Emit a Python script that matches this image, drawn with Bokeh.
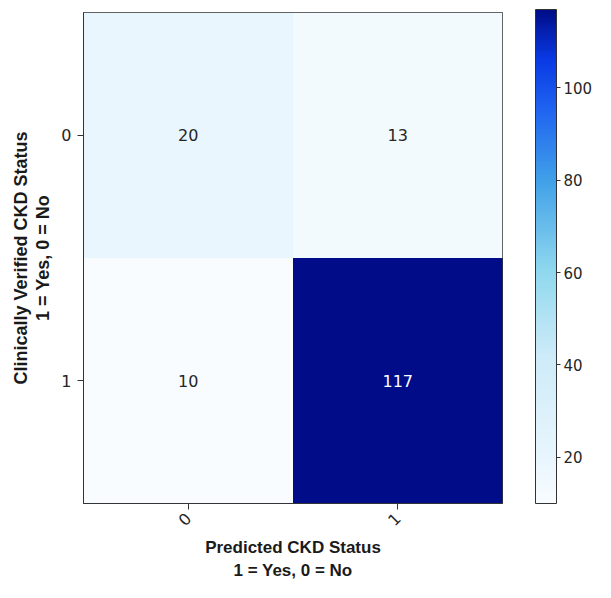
from math import pi
from bokeh.plotting import figure
from bokeh.models import ColumnDataSource, LinearColorMapper, ColorBar, FixedTicker, Range1d
from bokeh.transform import transform
from bokeh.core.properties import value
from bokeh.embed import file_html
from bokeh.resources import INLINE

# ---- data ----
row_labels = ["0", "1"]          # clinically verified status (rows, top to bottom)
col_labels = ["0", "1"]          # predicted status (columns, left to right)
counts_row0 = [20, 13]
counts_row1 = [10, 117]
cbar_ticks = [20, 40, 60, 80, 100]

counts = [counts_row0, counts_row1]

# ---- colormap (white -> cyan -> blue -> navy) ----
anchors = [
    (0.00, "#f8fcff"),
    (0.10, "#e7f5fd"),
    (0.30, "#cdebf8"),
    (0.47, "#90d8ee"),
    (0.65, "#42a2e8"),
    (0.80, "#1f63f0"),
    (0.90, "#0a3ae4"),
    (1.00, "#000c88"),
]


def h2rgb(h):
    h = h.lstrip("#")
    return tuple(int(h[k:k + 2], 16) for k in (0, 2, 4))


palette = []
N = 256
for n in range(N):
    t = n / (N - 1)
    for k in range(len(anchors) - 1):
        t0, c0 = anchors[k]
        t1, c1 = anchors[k + 1]
        if t0 <= t <= t1:
            f = (t - t0) / (t1 - t0)
            a, b = h2rgb(c0), h2rgb(c1)
            rgb = [round(a[m] + (b[m] - a[m]) * f) for m in range(3)]
            palette.append("#%02x%02x%02x" % tuple(rgb))
            break

xs, ys, vals = [], [], []
for i in range(len(row_labels)):
    for j in range(len(col_labels)):
        xs.append(j)
        ys.append(i)
        vals.append(counts[i][j])

vmin, vmax = min(vals), max(vals)
mapper = LinearColorMapper(palette=palette, low=vmin, high=vmax)
text_colors = ["white" if v > (vmin + vmax) / 2 else "#262626" for v in vals]

src = ColumnDataSource(dict(x=xs, y=ys, v=vals, label=[str(v) for v in vals], tc=text_colors))

p = figure(
    width=595, height=582,
    x_range=Range1d(-0.5, len(col_labels) - 0.5),
    y_range=Range1d(len(row_labels) - 0.5, -0.5),
    output_backend="svg", toolbar_location=None,
    min_border_left=83, min_border_top=12, min_border_bottom=76, min_border_right=93,
)

p.rect(x="x", y="y", width=1, height=1, source=src,
       fill_color=transform("v", mapper), line_color=None)
p.text(x="x", y="y", text="label", source=src, text_align="center", text_baseline="middle",
       text_font=value("DejaVu Sans"), text_font_size="16px", text_color="tc")

p.grid.visible = False
p.outline_line_color = "#333333"
p.outline_line_width = 1

for ax in (p.xaxis, p.yaxis):
    ax.minor_tick_line_color = None
    ax.major_tick_out = 6
    ax.major_tick_in = 0
    ax.major_tick_line_color = "#333333"
    ax.axis_line_color = "#333333"
    ax.major_label_text_font = "DejaVu Sans"
    ax.major_label_text_font_size = "16px"
    ax.major_label_text_color = "#262626"
    ax.axis_label_text_font = "Liberation Sans"
    ax.axis_label_text_font_style = "bold"
    ax.axis_label_text_color = "#1a1a1a"

p.xaxis.ticker = FixedTicker(ticks=list(range(len(col_labels))))
p.xaxis.major_label_overrides = {j: lab for j, lab in enumerate(col_labels)}
p.xaxis.major_label_orientation = pi / 4
p.xaxis.major_label_standoff = 6
p.xaxis.axis_label = "Predicted CKD Status\n1 = Yes, 0 = No"
p.xaxis.axis_label_standoff = 4
p.xaxis.axis_label_text_font_size = "17px"
p.xaxis.axis_label_text_line_height = 1.2

p.yaxis.ticker = FixedTicker(ticks=list(range(len(row_labels))))
p.yaxis.major_label_overrides = {i: lab for i, lab in enumerate(row_labels)}
p.yaxis.major_label_standoff = 6
p.yaxis.axis_label = "Clinically Verified CKD Status\n1 = Yes, 0 = No"
p.yaxis.axis_label_standoff = 5
p.yaxis.axis_label_text_font_size = "18px"
p.yaxis.axis_label_text_line_height = 1.1

cb = ColorBar(
    color_mapper=mapper, ticker=FixedTicker(ticks=cbar_ticks),
    width=21, height=494, padding=0, margin=0, location=(33, 0),
    major_tick_out=4, major_tick_in=0, major_tick_line_color="#333333",
    minor_tick_line_color=None,
    major_label_text_font="DejaVu Sans", major_label_text_font_size="15px",
    major_label_text_color="#262626", label_standoff=3,
    bar_line_color="#333333", border_line_color=None, background_fill_color=None,
)
p.add_layout(cb, "right")

open("out.html", "w").write(file_html(p, INLINE))
